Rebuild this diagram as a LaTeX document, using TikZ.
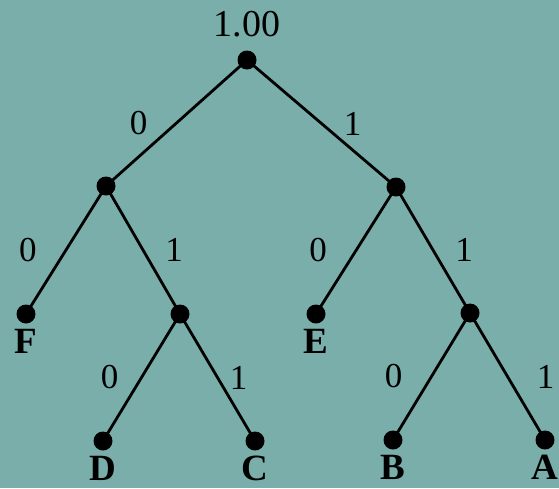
\documentclass[tikz,border=0pt]{standalone}
\usepackage{fontspec}
\setmainfont{Liberation Serif}
\definecolor{bgteal}{RGB}{121,174,170}
\begin{document}
\begin{tikzpicture}[x=1pt, y=-1pt, line width=2.8pt, line join=round, line cap=round,
	letter/.style={font=\fontsize{37}{37}\selectfont\bfseries, inner sep=0pt},
	bit/.style={midway, font=\fontsize{35}{35}\selectfont, inner sep=0pt},
	bitl/.style={bit, xshift=-38pt},
	bitr/.style={bit, xshift=31pt}]
	\fill[bgteal] (0,0) rectangle (559,488);
	\path
	(247,60) coordinate (root)
	(106,186) coordinate (n0)
	(396,187) coordinate (n1)
	(26,314) coordinate (F)
	(180,314) coordinate (n01)
	(316,314) coordinate (E)
	(470,313) coordinate (n11)
	(103,441) coordinate (D)
	(255,441) coordinate (C)
	(393,440) coordinate (B)
	(545,440) coordinate (A)
	;
	\node[font=\fontsize{38}{38}\selectfont, inner sep=0pt] (prob) at (247,24) {1.00};
	\draw (root)--(n0) node[bitl] (b0) {0}  (root)--(n1) node[bitr] (b1) {1};
	\draw (n0)--(F) node[bitl] (b00) {0}  (n0)--(n01) node[bitr] (b01) {1};
	\draw (n1)--(E) node[bitl] (b10) {0}  (n1)--(n11) node[bitr] (b11) {1};
	\draw (n01)--(D) node[bitl,xshift=6pt] (b010) {0}  (n01)--(C) node[bitr,xshift=-10pt] (b011) {1};
	\draw (n11)--(B) node[bitl] (b110) {0}  (n11)--(A) node[bitr,xshift=7pt] (b111) {1};
	\foreach \x in {root,n0,n1,n01,n11}
	\fill[black] (\x) circle (9.5pt);
	\foreach \x in {F,E,D,C,B,A}
	\fill[black] (\x) circle (9.5pt) +(0,27) node[letter] (l\x) {\x};
\end{tikzpicture}
\end{document}
